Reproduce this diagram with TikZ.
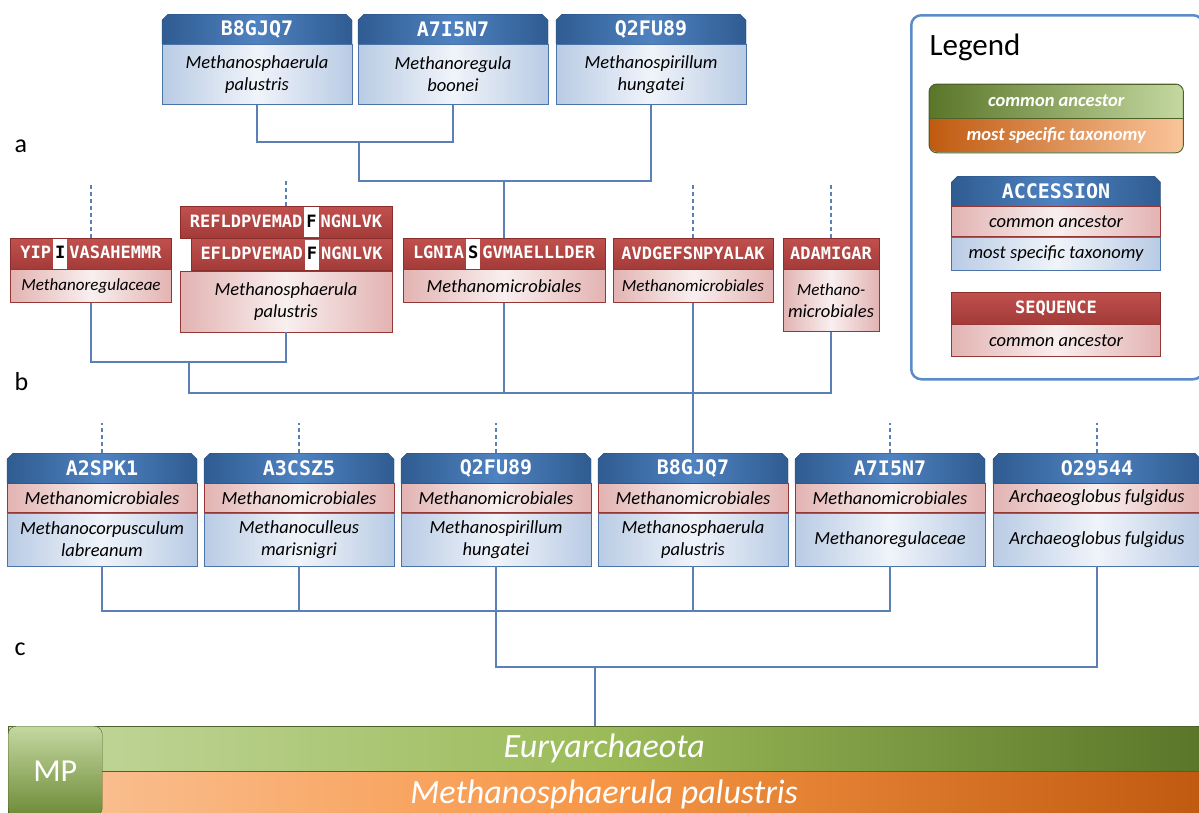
\documentclass[tikz,border=0pt]{standalone}
\usepackage{fontspec}
\setmainfont{Carlito}
\newfontfamily\seqfamily{DejaVu Sans Mono}
\usetikzlibrary{positioning, shapes.misc}

\definecolor{accdark}{HTML}{2F5C91}
\definecolor{acclight}{HTML}{4F82C0}
\definecolor{accline}{HTML}{2B4F7D}
\definecolor{taxedge}{HTML}{B9CBE4}
\definecolor{taxmid}{HTML}{F0F4FA}
\definecolor{taxline}{HTML}{4A74A8}
\definecolor{seqtop}{HTML}{C0504D}
\definecolor{seqbot}{HTML}{A33B39}
\definecolor{seqline}{HTML}{8A2E2C}
\definecolor{ancedge}{HTML}{E2B3B2}
\definecolor{ancmid}{HTML}{F9EFEF}
\definecolor{ancline}{HTML}{953735}
\definecolor{treeline}{HTML}{5A80B6}
\definecolor{legline}{HTML}{5B8BC8}
\definecolor{greenlight}{HTML}{C4D8A0}
\definecolor{greenmid}{HTML}{9BBB59}
\definecolor{greendark}{HTML}{5A7629}
\definecolor{greenline}{HTML}{4F6228}
\definecolor{orangelight}{HTML}{FAC49A}
\definecolor{orangemid}{HTML}{F79646}
\definecolor{orangedark}{HTML}{C05A10}

\newcommand{\taxfont}{\fontsize{18.5}{22}\selectfont\itshape}
\newcommand{\smalltax}{\fontsize{17}{21}\selectfont}
\newcommand{\accfont}{\fontsize{20}{24}\selectfont\seqfamily\bfseries}
\newcommand{\aafont}{\fontsize{17}{20}\selectfont\seqfamily\bfseries}
\newcommand{\keyfont}{\fontsize{18.5}{22}\selectfont\bfseries\itshape}
\newcommand{\barfont}{\fontsize{34}{40}\selectfont\itshape}
\newcommand{\hlres}[1]{\hspace{2pt}{\fboxsep=2pt\colorbox{white}{\textcolor{black}{\rule[-8pt]{0pt}{26pt}#1}}}\hspace{2pt}}

\begin{document}
\begin{tikzpicture}[x=1pt, y=-1pt,
    acchead/.style={chamfered rectangle, chamfered rectangle corners={north west,north east},
      chamfered rectangle xsep=3pt, chamfered rectangle ysep=3pt, draw=accline,
      left color=accdark, right color=accdark, middle color=acclight, text=white,
      font=\accfont, inner sep=0pt, minimum width=190pt, minimum height=30pt, anchor=north},
    taxbody/.style={draw=taxline, left color=taxedge, right color=taxedge, middle color=taxmid,
      font=\taxfont, align=center, inner sep=0pt, minimum width=190pt},
    ancbody/.style={draw=ancline, left color=ancedge, right color=ancedge, middle color=ancmid,
      font=\taxfont, align=center, inner sep=0pt},
    seqhead/.style={draw=seqline, top color=seqtop, bottom color=seqbot, text=white,
      font=\aafont, inner sep=0pt, minimum height=31pt, anchor=north},
    keybox/.style={draw=greenline, anchor=north west, minimum width=254pt, minimum height=34pt,
      inner sep=0pt, text=white, font=\keyfont},
    branch/.style={draw=treeline, line width=1.3pt},
    stubline/.style={branch, dash pattern=on 4pt off 3pt},
    panel/.style={anchor=base west, font=\fontsize{26}{30}\selectfont}]
  \clip (0,0) rectangle (1199,812);

  \node[panel] (labela) at (11,152) {a};
  \node[panel] (labelb) at (11,390) {b};
  \node[panel] (labelc) at (11,655) {c};

  \node[acchead] (topb8) at (257,14) {B8GJQ7};
  \node[taxbody, minimum height=60pt, below=0pt of topb8] (topb8tax) {Methanosphaerula\\palustris};
  \node[acchead] (topa7) at (453,14) {A7I5N7};
  \node[taxbody, minimum height=60pt, below=0pt of topa7] (topa7tax) {Methanoregula\\boonei};
  \node[acchead] (topq2) at (651,14) {Q2FU89};
  \node[taxbody, minimum height=60pt, below=0pt of topq2] (topq2tax) {Methanospirillum\\hungatei};

  \node[seqhead, minimum width=161pt] (seqyip) at (91,238) {YIP\hlres{I}VASAHEMMR};
  \node[ancbody, minimum width=161pt, minimum height=33pt, below=0pt of seqyip] (seqyiptax) {\smalltax Methanoregulaceae};
  \node[seqhead, minimum width=212pt, minimum height=32pt] (seqref) at (286,206) {REFLDPVEMAD\hlres{F}NGNLVK};
  \node[seqhead, minimum width=201pt, minimum height=32pt, anchor=north east] (seqefl) at (seqref.south east) {EFLDPVEMAD\hlres{F}NGNLVK};
  \node[ancbody, minimum width=212pt, minimum height=61pt, anchor=north east] (seqreftax) at (seqefl.south east) {Methanosphaerula\\palustris};
  \node[seqhead, minimum width=202pt] (seqlgn) at (504,238) {LGNIA\hlres{S}GVMAELLLDER};
  \node[ancbody, minimum width=202pt, minimum height=33pt, below=0pt of seqlgn] (seqlgntax) {Methanomicrobiales};
  \node[seqhead, minimum width=160pt] (seqavd) at (693,238) {AVDGEFSNPYALAK};
  \node[ancbody, minimum width=160pt, minimum height=33pt, below=0pt of seqavd] (seqavdtax) {\smalltax Methanomicrobiales};
  \node[seqhead, minimum width=96pt] (seqada) at (831,238) {ADAMIGAR};
  \node[ancbody, minimum width=96pt, minimum height=62pt, below=0pt of seqada] (seqadatax) {\smalltax Methano-\\microbiales};

  \node[acchead] (proa2) at (102,453) {A2SPK1};
  \node[ancbody, minimum width=190pt, minimum height=29pt, below=0pt of proa2] (proa2anc) {Methanomicrobiales};
  \node[taxbody, minimum height=53pt, below=0pt of proa2anc] (proa2tax) {Methanocorpusculum\\labreanum};
  \node[acchead] (proa3) at (299,453) {A3CSZ5};
  \node[ancbody, minimum width=190pt, minimum height=29pt, below=0pt of proa3] (proa3anc) {Methanomicrobiales};
  \node[taxbody, minimum height=53pt, below=0pt of proa3anc] (proa3tax) {Methanoculleus\\marisnigri};
  \node[acchead] (proq2) at (496,453) {Q2FU89};
  \node[ancbody, minimum width=190pt, minimum height=29pt, below=0pt of proq2] (proq2anc) {Methanomicrobiales};
  \node[taxbody, minimum height=53pt, below=0pt of proq2anc] (proq2tax) {Methanospirillum\\hungatei};
  \node[acchead] (prob8) at (693,453) {B8GJQ7};
  \node[ancbody, minimum width=190pt, minimum height=29pt, below=0pt of prob8] (prob8anc) {Methanomicrobiales};
  \node[taxbody, minimum height=53pt, below=0pt of prob8anc] (prob8tax) {Methanosphaerula\\palustris};
  \node[acchead] (proa7) at (890,453) {A7I5N7};
  \node[ancbody, minimum width=190pt, minimum height=29pt, below=0pt of proa7] (proa7anc) {Methanomicrobiales};
  \node[taxbody, minimum height=53pt, below=0pt of proa7anc] (proa7tax) {Methanoregulaceae};
  \node[acchead, minimum width=208pt] (proo2) at (1097,453) {O29544};
  \node[ancbody, minimum width=208pt, minimum height=29pt, below=0pt of proo2] (proo2anc) {Archaeoglobus fulgidus};
  \node[taxbody, minimum width=208pt, minimum height=53pt, below=0pt of proo2anc] (proo2tax) {Archaeoglobus fulgidus};

  \coordinate (joina) at (359,142);
  \coordinate (roota) at (504,181);
  \draw[branch] (topb8tax.south) |- (joina) -| (topa7tax.south);
  \draw[branch] (joina) |- (roota) -| (topq2tax.south);
  \draw[branch] (roota) -- (seqlgn.north);

  \coordinate (joinb) at (189,362);
  \coordinate (rootb) at (693,393);
  \draw[branch] (seqyiptax.south) |- (joinb) -| (seqreftax.south);
  \draw[branch] (joinb) |- (rootb) -| (seqadatax.south);
  \draw[branch] (seqlgntax.south) -- (seqlgntax.south |- rootb);
  \draw[branch] (seqavdtax.south) -- (prob8.north);
  \draw[stubline] (seqyip.north) -- +(0,53pt);
  \draw[stubline] (seqref.north) -- +(0,26pt);
  \draw[stubline] (seqavd.north) -- +(0,54pt);
  \draw[stubline] (seqada.north) -- +(0,54pt);

  \coordinate (joinc) at (496,611);
  \coordinate (rootc) at (595,667);
  \draw[branch] (proa2tax.south) |- (joinc) -| (proa7tax.south);
  \draw[branch] (proa3tax.south) -- (proa3tax.south |- joinc);
  \draw[branch] (prob8tax.south) -- (prob8tax.south |- joinc);
  \draw[branch] (proq2tax.south) -- (joinc);
  \draw[branch] (joinc) |- (rootc) -| (proo2tax.south);
  \draw[stubline] (proa2.north) -- +(0,30pt);
  \draw[stubline] (proa3.north) -- +(0,30pt);
  \draw[stubline] (proq2.north) -- +(0,30pt);
  \draw[stubline] (proa7.north) -- +(0,30pt);
  \draw[stubline] (proo2.north) -- +(0,30pt);

  \node[anchor=north west, minimum width=1192pt, minimum height=45pt, inner sep=0pt, draw=greenline,
    left color=greenlight, right color=greendark, middle color=greenmid, text=white, font=\barfont]
    (lineage) at (8,726) {Euryarchaeota};
  \node[minimum width=1192pt, minimum height=45pt, inner sep=0pt, draw=greenline,
    left color=orangelight, right color=orangedark, middle color=orangemid, text=white, font=\barfont,
    below=0pt of lineage] (species) {Methanosphaerula palustris};
  \node[anchor=north west, minimum width=94pt, minimum height=90pt, rounded corners=8pt, draw=greenline,
    top color=greenlight, bottom color=greendark!70!greenmid, text=white,
    font=\fontsize{32}{36}\selectfont] (mpbox) at (8,726) {MP};
  \draw[branch] (rootc) -- (rootc |- lineage.north);

  \node[draw=legline, line width=2.5pt, rounded corners=10pt, minimum width=292pt, minimum height=364pt,
    anchor=north west, inner sep=0pt] (legend) at (910,14) {};
  \node[anchor=base west, font=\fontsize{31}{36}\selectfont] (legendtitle) at (926,55) {Legend};
  \begin{scope}
    \clip[rounded corners=8pt] (929,84) rectangle (1183,152);
    \node[keybox, left color=greendark, right color=greenlight] (keyanc) at (929,84) {common ancestor};
    \node[keybox, left color=orangedark, right color=orangelight, below=0pt of keyanc] (keytax) {most specific taxonomy};
  \end{scope}
  \draw[greenline, line width=1pt, rounded corners=8pt] (keyanc.north west) rectangle (keytax.south east);
  \node[acchead, minimum width=209pt] (keyacc) at (1056,176) {ACCESSION};
  \node[ancbody, minimum width=209pt, minimum height=30pt, below=0pt of keyacc] (keyaccanc) {common ancestor};
  \node[taxbody, minimum width=209pt, minimum height=33pt, below=0pt of keyaccanc] (keyacctax) {most specific taxonomy};
  \node[seqhead, minimum width=209pt, minimum height=32pt] (keyseq) at (1056,292) {SEQUENCE};
  \node[ancbody, minimum width=209pt, minimum height=32pt, below=0pt of keyseq] (keyseqanc) {common ancestor};
\end{tikzpicture}
\end{document}
